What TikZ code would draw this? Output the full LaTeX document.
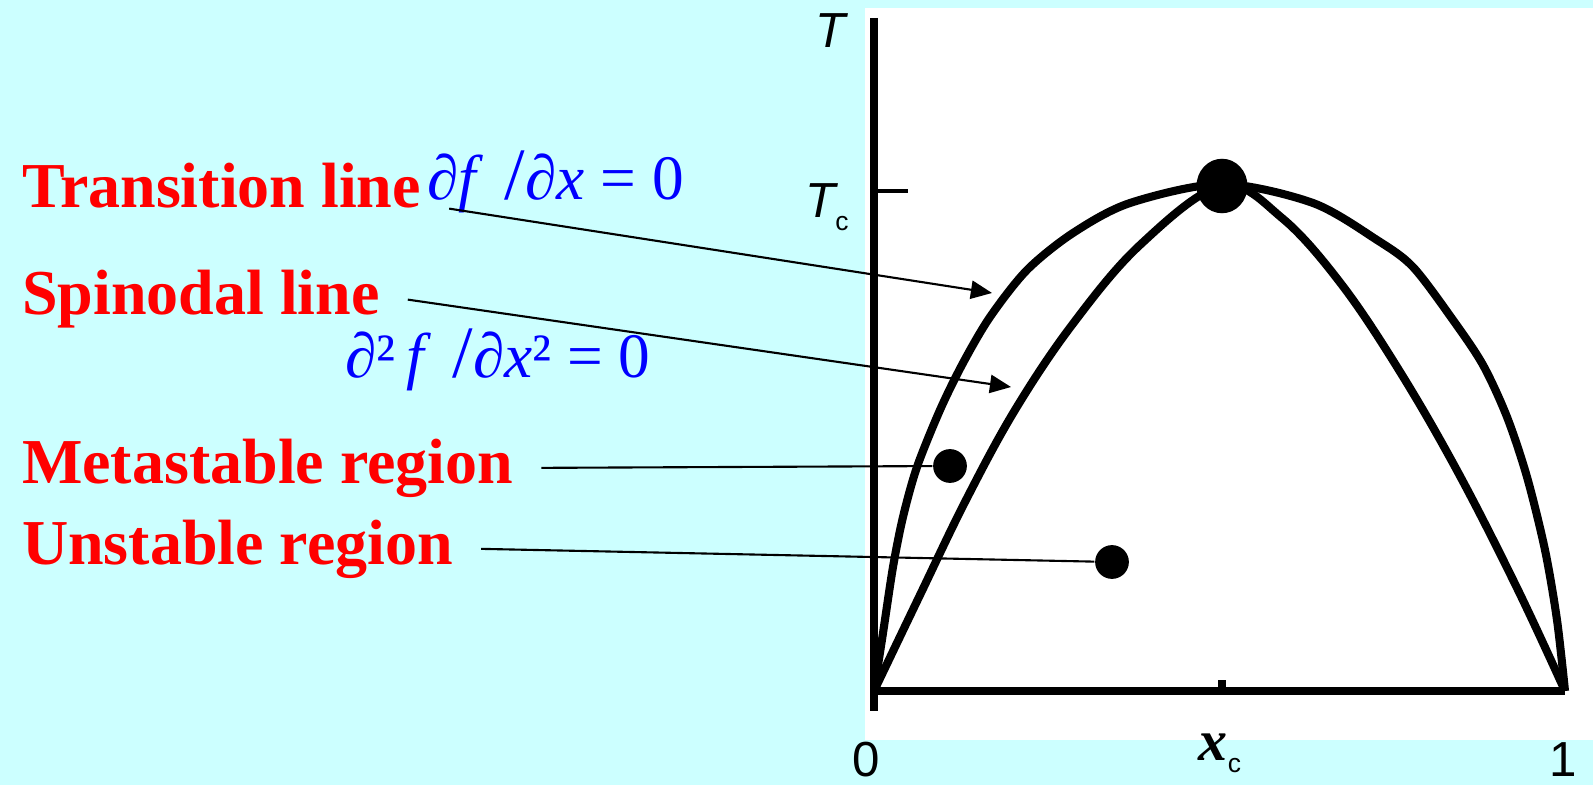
\documentclass[tikz,border=0pt]{standalone}
\usepackage{fontspec}
\setmainfont{Liberation Serif}
\setsansfont{Liberation Sans}
\usetikzlibrary{arrows.meta,shapes.geometric}
\definecolor{slidecyan}{RGB}{204,255,255}
\tikzset{
  redlab/.style={text=red, font=\fontsize{18.2}{20}\selectfont\bfseries, inner sep=0pt, outer xsep=8pt, outer ysep=0pt},
  bluelab/.style={text=blue, font=\fontsize{18}{20}\selectfont, inner sep=0pt},
  axislab/.style={font=\sffamily\fontsize{14}{16}\selectfont, inner sep=0pt},
  axis/.style={line width=2.2pt},
  curve/.style={line width=2.3pt, line join=round},
  pointer/.style={line width=0.6pt, -{Triangle[length=6pt,width=5.2pt]}},
  spot/.style={circle, fill=black, inner sep=0pt, minimum size=9.6pt},
}
\begin{document}
\begin{tikzpicture}[x=0.01cm, y=-0.01cm]
    \fill[slidecyan] (0,0) rectangle (1593,785);
    \fill[white] (865,8) rectangle (1593,740);
    \useasboundingbox (0,0) rectangle (1593,785);
    % axes
    \draw[axis] (874,18) -- (874,711);
    \draw[axis, line width=2.5pt] (874,691) -- (1565,691);
    \draw[line width=1.1pt] (874,191) -- (908,191);
    \draw[line width=2.3pt] (1222,691) -- (1222,680);
    \node[axislab, anchor=base] (tlab) at (831,48) {\itshape T};
    \node[axislab, anchor=base] (tclab) at (827,218) {\itshape T\raisebox{-3.5pt}{\upshape\fontsize{7.5}{8}\selectfont c}};
    \node[axislab, anchor=base] (zero) at (866,776) {0};
    \node[axislab, anchor=base] (one) at (1563,776) {1};
    \node[inner sep=0pt, anchor=base] (xclab) at (1220,760) {\fontsize{16.5}{18}\selectfont\bfseries\itshape x\raisebox{-3.5pt}{\upshape\mdseries\sffamily\fontsize{7.5}{8}\selectfont c}};
    % transition (outer) and spinodal (inner) lines
    \draw[curve] plot[smooth, tension=0.5] coordinates {(874,691) (883,633) (893,567)
      (903,517) (917,467) (940,410) (963,363) (990,317) (1027,270) (1073,233) (1130,203)
      (1222,184) (1313,203) (1377,240) (1413,267) (1453,320) (1483,365) (1507,417)
      (1527,477) (1545,550) (1557,620) (1565,691)};
    \draw[curve] plot[smooth, tension=0.6] coordinates {(874,691) (920,595) (966,500)
      (1015,410) (1072,325) (1140,245) (1222,186) (1282,218) (1342,285) (1402,375)
      (1460,476) (1518,590) (1565,691)};
    \node[ellipse, fill=black, inner sep=0pt, minimum width=14.5pt, minimum height=15.5pt] (crit) at (1222,186) {};
    % labels
    \node[redlab, anchor=base west] (trans) at (-6,208) {Transition line};
    \node[redlab, anchor=base west] (spin) at (-6,315) {Spinodal line};
    \node[redlab, anchor=base west] (meta) at (-6,483) {Metastable region};
    \node[redlab, anchor=base west] (unst) at (-6,564) {Unstable region};
    \node[bluelab, anchor=base west] (dfirst) at (427,200) {∂\textit{f}\,\,{\fontsize{21}{21}\selectfont/}∂\textit{x} = 0};
    \node[bluelab, anchor=base west] (dsecond) at (345,378) {∂²\,\textit{f}\,\,{\fontsize{21}{21}\selectfont/}∂\textit{x}² = 0};
    \node[spot] (mdot) at (950,466) {};
    \node[spot] (udot) at (1112,562) {};
    \coordinate (tarr) at (992,293);
    \coordinate (sarr) at (1011,387);
    \draw[pointer] (trans.south east) -- (tarr);
    \draw[pointer] (spin.east) -- (sarr);
    \draw[line width=0.6pt] (meta.east) -- (mdot);
    \draw[line width=0.6pt] (unst.east) -- (udot);
  \end{tikzpicture}
\end{document}
